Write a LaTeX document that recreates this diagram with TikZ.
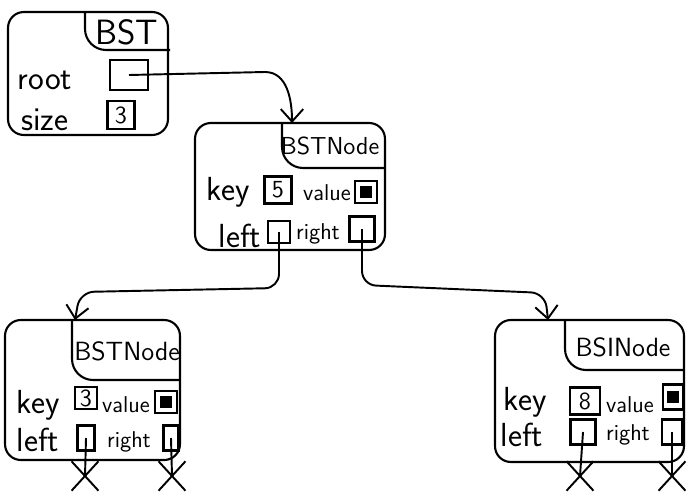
\documentclass[tikz,border=0pt]{standalone}
\usetikzlibrary{arrows.meta,shapes.misc}
\tikzset{
  objbox/.style={draw, line width=1.2pt, rounded corners=9pt},
  tabline/.style={line width=1.2pt, rounded corners=12pt},
  tabtitle/.style={font=\sffamily\fontsize{20}{20}\selectfont},
  nodetitle/.style={font=\sffamily\fontsize{14}{14}\selectfont},
  lbl/.style={font=\sffamily\fontsize{19}{20}\selectfont},
  smalllbl/.style={font=\sffamily\fontsize{13}{14}\selectfont},
  field/.style={draw, line width=1.2pt, inner sep=0pt, minimum size=0.5cm,
    font=\sffamily\fontsize{14}{14}\selectfont},
  valbox/.style={field, minimum size=0.45cm},
  ptr/.style={line width=1.1pt, -{Straight Barb[length=2.5mm,width=4.5mm]}},
  wire/.style={line width=1.1pt},
  nil/.style={draw, cross out, line width=1.1pt, minimum width=0.5cm, minimum height=0.55cm}
}
\newcommand{\blob}{\rule{0.25cm}{0.25cm}}
\begin{document}
\begin{tikzpicture}[x=0.02cm,y=-0.02cm]
\useasboundingbox (0,0) rectangle (688,493);
% the BST object
\begin{scope}[shift={(8,12)}]
\node[objbox, minimum width=3.2cm, minimum height=2.46cm] (bst) at (80,61.5) {};
\draw[tabline] (77,0) -- (77,38) -- (162,38);
\node[tabtitle] (bsttitle) at (119,20) {BST};
\node[lbl] (bstrootlbl) at (37,68) {root};
\node[field, minimum width=0.76cm, minimum height=0.6cm] (bstroot) at (121,63) {};
\node[lbl] (bstsizelbl) at (37,108) {size};
\node[field, minimum width=0.54cm, minimum height=0.56cm] (bstsize) at (113,103) {3};
\end{scope}
% root node
\begin{scope}[shift={(195,123)}]
\node[objbox, minimum width=3.8cm, minimum height=2.54cm] (rn) at (95,63.5) {};
\coordinate (rnin) at (97,0);
\draw[tabline] (87,0) -- (87,45) -- (190,45);
\node[nodetitle] (rntitle) at (135,23) {BSTNode};
\node[lbl] (rnkeylbl) at (33,69) {key};
\node[field, minimum size=0.54cm] (rnkey) at (83,67) {5};
\node[smalllbl] (rnvallbl) at (132,70) {value};
\node[valbox] (rnval) at (171,69) {\blob};
\node[lbl] (rnleftlbl) at (45,113) {left};
\node[field, minimum size=0.44cm] (rnleft) at (84,109) {};
\node[smalllbl] (rnrightlbl) at (123,111) {right};
\node[field] (rnright) at (167,106) {};
\end{scope}
% left child
\begin{scope}[shift={(5,320)}]
\node[objbox, minimum width=3.5cm, minimum height=2.8cm] (ln) at (87.5,70) {};
\coordinate (lnin) at (70,0);
\draw[tabline] (67,0) -- (67,60) -- (175,60);
\node[nodetitle, font=\sffamily\fontsize{15}{15}\selectfont] (lntitle) at (122,31) {BSTNode};
\node[lbl] (lnkeylbl) at (33,85) {key};
\node[field, minimum size=0.44cm] (lnkey) at (81,78) {3};
\node[smalllbl] (lnvallbl) at (121,85) {value};
\node[valbox] (lnval) at (161,82) {\blob};
\node[lbl] (lnleftlbl) at (33,120) {left};
\node[field, minimum width=0.34cm, minimum height=0.5cm] (lnleft) at (81,118) {};
\node[smalllbl] (lnrightlbl) at (124,122) {right};
\node[field, minimum width=0.3cm, minimum height=0.5cm] (lnright) at (166,118) {};
\node[nil] (lnleftnil) at (80,156) {};
\node[nil] (lnrightnil) at (167,156) {};
\end{scope}
% right child
\begin{scope}[shift={(495,320)}]
\node[objbox, minimum width=3.78cm, minimum height=2.84cm] (rc) at (94.5,71) {};
\coordinate (rcin) at (53,0);
\draw[tabline] (70,0) -- (70,50) -- (189,50);
\node[nodetitle, font=\sffamily\fontsize{15}{15}\selectfont] (rctitle) at (128,27) {BSINode};
\node[lbl] (rckeylbl) at (30,82) {key};
\node[field, minimum width=0.6cm, minimum height=0.54cm] (rckey) at (90,81) {8};
\node[smalllbl] (rcvallbl) at (135,85) {value};
\node[valbox, minimum width=0.4cm, minimum height=0.5cm] (rcval) at (178,77) {\blob};
\node[lbl] (rcleftlbl) at (27,115) {left};
\node[field] (rcleft) at (88,112) {};
\node[smalllbl] (rcrightlbl) at (133,115) {right};
\node[field, minimum width=0.4cm] (rcright) at (177,112) {};
\node[nil] (rcleftnil) at (85,156) {};
\node[nil] (rcrightnil) at (177,156) {};
\end{scope}
% pointers
\draw[ptr] (bstroot.center) -- (265,72) to[out=0,in=90] (rnin);
\draw[ptr, rounded corners=8pt] (rnleft.center) -- (279,288) -- (80,292) -- (lnin);
\draw[ptr, rounded corners=8pt] (rnright.center) -- (362,285) -- (545,293) -- (rcin);
\draw[wire] (lnleft.center) -- (lnleftnil.center);
\draw[wire] (lnright.center) -- (lnrightnil.center);
\draw[wire] (rcleft.center) -- (rcleftnil.center);
\draw[wire] (rcright.center) -- (rcrightnil.center);
\end{tikzpicture}
\end{document}
